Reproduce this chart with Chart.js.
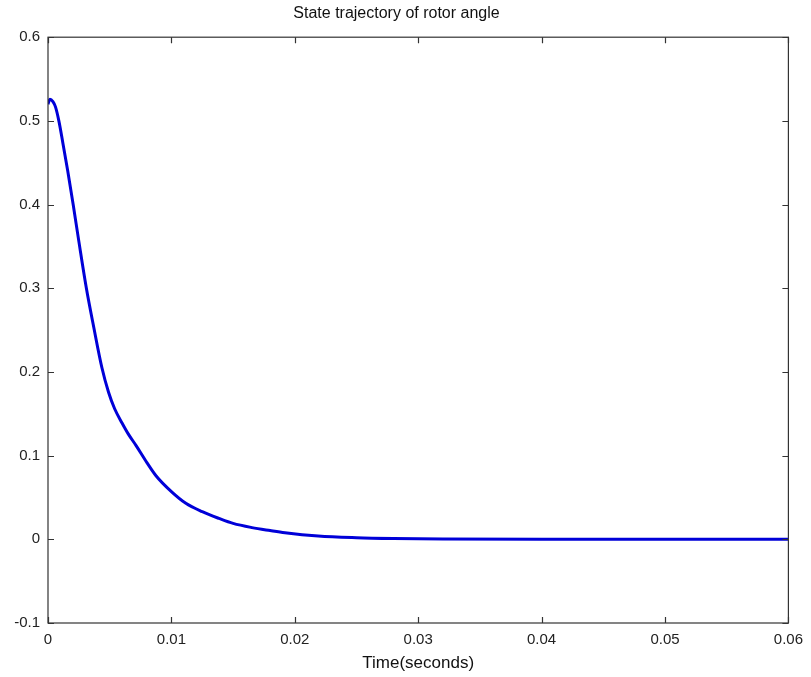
<!DOCTYPE html>
<html>
<head>
<meta charset="utf-8">
<script src="https://cdn.jsdelivr.net/npm/chart.js@4.4.1/dist/chart.umd.min.js"></script>
<style>
  html, body { margin: 0; padding: 0; background: #fff; }
  canvas { display: block; }
</style>
</head>
<body>
<canvas id="rotor" width="811" height="677"></canvas>
<script>
// values
const times = [0, 0.00016, 0.0004, 0.0006, 0.00088, 0.0012, 0.0016, 0.00204, 0.0025, 0.00311,
  0.0037, 0.00437, 0.0049, 0.0054, 0.006, 0.0065, 0.00714, 0.008, 0.00875, 0.01,
  0.01117, 0.0125, 0.01385, 0.015, 0.01653, 0.018, 0.0192, 0.0219, 0.025, 0.028,
  0.032, 0.04, 0.05, 0.06];
const angle = [0.52, 0.526, 0.523, 0.517, 0.5, 0.474, 0.44, 0.4, 0.356, 0.3,
  0.254, 0.205, 0.176, 0.156, 0.139, 0.126, 0.112, 0.092, 0.076, 0.057,
  0.043, 0.033, 0.025, 0.019, 0.014, 0.0105, 0.0079, 0.004, 0.002, 0.001,
  0.0003, 0, 0, 0];
const xTicks = [0, 0.01, 0.02, 0.03, 0.04, 0.05, 0.06];
const yTicks = [-0.1, 0, 0.1, 0.2, 0.3, 0.4, 0.5, 0.6];

const fmt = v => String(parseFloat(Number(v).toFixed(3)));

// matlab style box with inward ticks on all four sides
const boxTicks = {
  id: 'boxTicks',
  afterDatasetsDraw(chart) {
    const { ctx, chartArea: a, scales } = chart;
    ctx.save();
    ctx.strokeStyle = '#333';
    ctx.lineWidth = 1.2;
    ctx.strokeRect(a.left, a.top, a.right - a.left, a.bottom - a.top);
    ctx.beginPath();
    xTicks.forEach(t => {
      const px = Math.round(scales.x.getPixelForValue(t)) + 0.5;
      ctx.moveTo(px, a.bottom); ctx.lineTo(px, a.bottom - 6);
      ctx.moveTo(px, a.top); ctx.lineTo(px, a.top + 6);
    });
    yTicks.forEach(t => {
      const py = Math.round(scales.y.getPixelForValue(t)) + 0.5;
      ctx.moveTo(a.left, py); ctx.lineTo(a.left + 6, py);
      ctx.moveTo(a.right, py); ctx.lineTo(a.right - 6, py);
    });
    ctx.stroke();
    ctx.restore();
  }
};

Chart.defaults.font.family = '"Liberation Sans", Arial, sans-serif';
Chart.defaults.color = '#222';

new Chart(document.getElementById('rotor'), {
  type: 'line',
  data: {
    datasets: [{
      label: 'rotor angle',
      data: times.map((t, i) => ({ x: t, y: angle[i] })),
      borderColor: '#0000d8',
      borderWidth: 3,
      pointRadius: 0,
      cubicInterpolationMode: 'monotone',
      fill: false
    }]
  },
  options: {
    responsive: false,
    animation: false,
    layout: { padding: { left: 0, right: 18, top: 0, bottom: 0 } },
    plugins: {
      legend: { display: false },
      tooltip: { enabled: false },
      title: {
        display: true,
        text: 'State trajectory of rotor angle',
        color: '#111',
        font: { size: 16, weight: 'normal' },
        padding: { top: 4, bottom: 14 }
      }
    },
    scales: {
      x: {
        type: 'linear',
        min: 0,
        max: 0.06,
        afterFit: s => { s.height = 54; },
        afterBuildTicks: s => { s.ticks = xTicks.map(v => ({ value: v })); },
        grid: { display: false, drawTicks: false },
        border: { display: false },
        ticks: { padding: 8, maxRotation: 0, font: { size: 15 }, color: '#222', callback: fmt },
        title: {
          display: true,
          text: 'Time(seconds)',
          color: '#111',
          font: { size: 17 },
          padding: { top: 0, bottom: 3 }
        }
      },
      y: {
        min: -0.1,
        max: 0.6,
        afterFit: s => { s.width = 48; },
        afterBuildTicks: s => { s.ticks = yTicks.map(v => ({ value: v })); },
        grid: { display: false, drawTicks: false },
        border: { display: false },
        ticks: { padding: 8, font: { size: 15 }, color: '#222', callback: fmt }
      }
    }
  },
  plugins: [boxTicks]
});
</script>
</body>
</html>
